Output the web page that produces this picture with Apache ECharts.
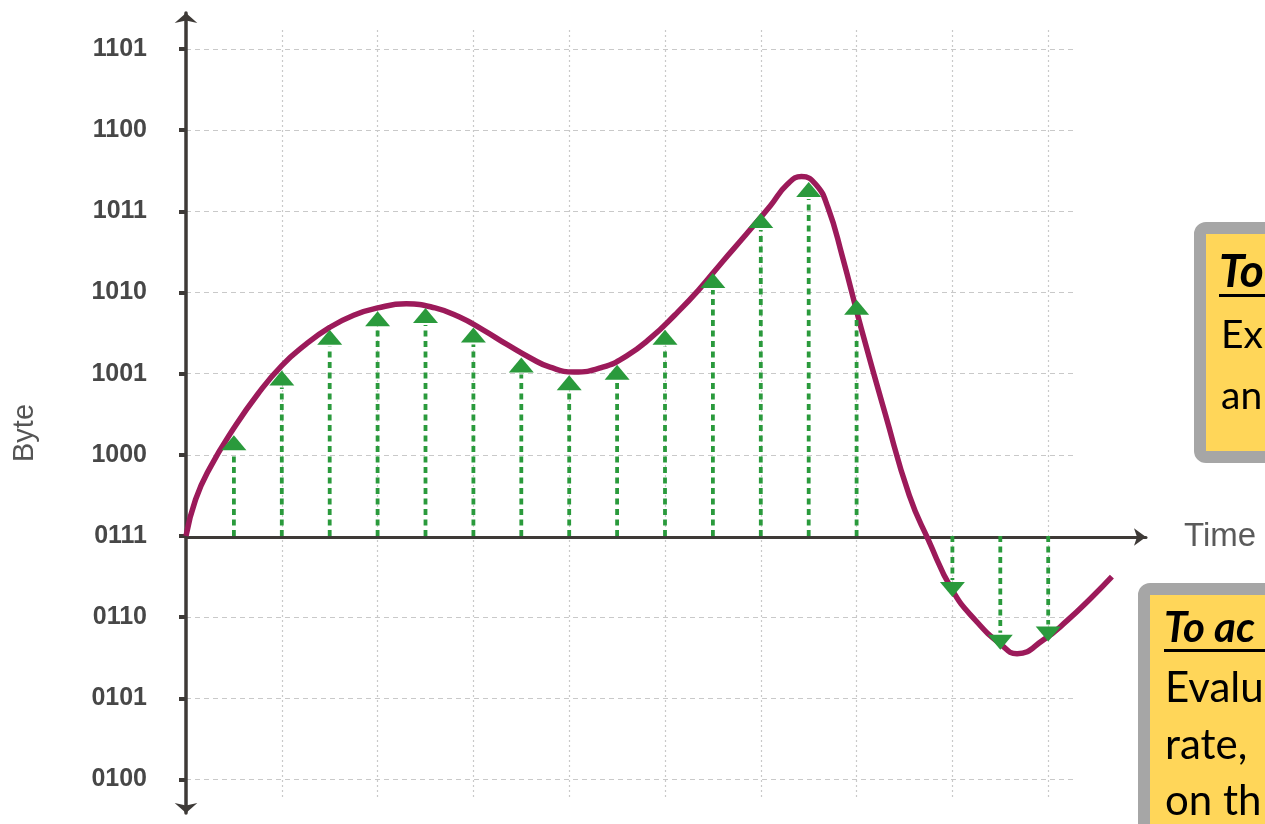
<!DOCTYPE html>
<html>
<head>
<meta charset="utf-8">
<script src="https://cdn.jsdelivr.net/npm/echarts@6/dist/echarts.min.js"></script>
<style>
html,body{margin:0;padding:0;background:#fff;}
#chart{width:1265px;height:824px;}
</style>
</head>
<body>
<div id="chart"></div>
<script>
// ---- data ----
const yTickValues = [4, 5, 6, 7, 8, 9, 10, 11, 12, 13];
const yTickLabels = ['0100', '0101', '0110', '0111', '1000', '1001', '1010', '1011', '1100', '1101'];
const sampleTimes  = [1, 2, 3, 4, 5, 6, 7, 8, 9, 10, 11, 12, 13, 14, 16, 17, 18];
const sampleValues = [8.24, 9.04, 9.54, 9.77, 9.81, 9.57, 9.20, 8.98, 9.11, 9.54, 10.24, 10.98, 11.36, 9.91, 6.25, 5.60, 5.70];
const curveTimes  = [0, 0.2, 0.5, 1, 1.5, 2, 2.5, 3, 3.5, 4, 4.6, 5.2, 5.7, 6.2, 6.7, 7.2, 7.6, 8.1, 8.7, 9.2, 9.7, 10.2, 10.7, 11.2, 11.7, 12.2, 12.55, 12.85, 13.15, 13.4, 13.7, 14.1, 14.6, 15.1, 15.5, 16, 16.5, 17, 17.35, 17.9, 18.4, 18.9, 19.33];
const curveValues = [7.0, 7.45, 7.84, 8.33, 8.75, 9.1, 9.36, 9.57, 9.72, 9.81, 9.86, 9.81, 9.7, 9.54, 9.36, 9.19, 9.08, 9.02, 9.08, 9.22, 9.44, 9.72, 10.03, 10.38, 10.72, 11.07, 11.33, 11.43, 11.33, 11.05, 10.45, 9.55, 8.5, 7.5, 6.95, 6.33, 5.95, 5.67, 5.55, 5.72, 5.96, 6.24, 6.5];
const baseLevel = 7;
const xAxisName = 'Time';
const yAxisName = 'Byte';
const box1Lines = ['To', 'Ex', 'an'];
const box2Lines = ['To ac', 'Evalu', 'rate,', 'on th'];

// ---- chart ----
const chart = echarts.init(document.getElementById('chart'), null, {renderer: 'canvas'});
const green = '#2a9a3c';
const axisColor = '#3e3a37';
const gridColor = '#c9c9c9';
const LEFT = 186;
const UNIT = 47.9;
const PX_PER_BYTE = 81.17;

const option = {
  animation: false,
  backgroundColor: '#ffffff',
  grid: [
    {left: LEFT, top: 13, width: 969, height: 800},             // 0 data + y axis
    {left: LEFT, top: 536, width: 960, height: 1},              // 1 time axis line
    {left: LEFT, top: 49, width: 891, height: 730.5},           // 2 horizontal grid lines
    {left: LEFT, top: 30, width: UNIT * 18, height: 767}        // 3 vertical grid lines
  ],
  xAxis: [
    {gridIndex: 0, type: 'value', min: 0, max: 969 / UNIT, show: false},
    {gridIndex: 1, type: 'value', min: 0, max: 1, position: 'top', z: 1,
     axisLine: {show: true, symbol: ['none', 'arrow'], symbolSize: [13, 12], lineStyle: {color: axisColor, width: 3}},
     axisTick: {show: false}, axisLabel: {show: false}, splitLine: {show: false},
     name: xAxisName, nameLocation: 'end', nameGap: 38,
     nameTextStyle: {fontFamily: 'Liberation Sans', fontSize: 33, color: '#5a5a5a', padding: [0, 0, 16, 0]}},
    {gridIndex: 2, type: 'value', min: 0, max: 1, show: false},
    {gridIndex: 3, type: 'value', min: 0, max: 18, interval: 2, z: 0,
     axisLine: {show: false}, axisTick: {show: false}, axisLabel: {show: false},
     splitLine: {show: true, lineStyle: {color: gridColor, width: 1.2, type: [2, 3]}}}
  ],
  yAxis: [
    {gridIndex: 0, type: 'value', min: 13 - 800 / PX_PER_BYTE + 36 / PX_PER_BYTE, max: 13 + 36 / PX_PER_BYTE, z: 1,
     axisLine: {show: true, symbol: ['arrow', 'arrow'], symbolSize: [17, 10], lineStyle: {color: axisColor, width: 3.5}},
     axisTick: {show: true, length: 7, customValues: yTickValues, lineStyle: {color: axisColor, width: 4}},
     axisLabel: {show: true, customValues: yTickValues, margin: 39,
       formatter: v => yTickLabels[yTickValues.indexOf(Math.round(v))] || '',
       fontFamily: 'Liberation Sans', fontWeight: 'bold', fontSize: 25, color: '#474747'},
     splitLine: {show: false}},
    {gridIndex: 1, type: 'value', min: 0, max: 1, show: false},
    {gridIndex: 2, type: 'value', min: 4, max: 13, interval: 1, z: 0,
     axisLine: {show: false}, axisTick: {show: false}, axisLabel: {show: false},
     splitLine: {show: true, lineStyle: {color: gridColor, width: 1.2, type: [5, 4]}}},
    {gridIndex: 3, type: 'value', min: 0, max: 1, show: false}
  ],
  series: [
    {
      type: 'line', xAxisIndex: 0, yAxisIndex: 0, z: 2,
      data: curveTimes.map((t, i) => [t, curveValues[i]]),
      smooth: 0.5, symbol: 'none',
      lineStyle: {color: '#9c1a5a', width: 5.5}
    },
    {
      type: 'custom', xAxisIndex: 0, yAxisIndex: 0, z: 3,
      data: sampleTimes.map((t, i) => [t, sampleValues[i]]),
      renderItem: function (params, api) {
        const t = api.value(0), v = api.value(1);
        const base = api.coord([t, baseLevel]);
        const tip = api.coord([t, v]);
        const dir = v >= baseLevel ? 1 : -1;
        const h = 15, w = 12.5;
        const by = tip[1] + dir * h;
        return {
          type: 'group',
          children: [
            {type: 'line', shape: {x1: base[0], y1: base[1], x2: tip[0], y2: by + dir * 2},
             style: {stroke: green, lineWidth: 3.8, lineDash: [6, 4.5]}},
            {type: 'polygon', shape: {points: [[tip[0], tip[1]], [tip[0] - w, by], [tip[0] + w, by]]},
             style: {fill: green}}
          ]
        };
      }
    }
  ],
  graphic: [
    {type: 'text', x: 25, y: 433, rotation: Math.PI / 2,
     style: {text: yAxisName, fontFamily: 'Liberation Sans', fontSize: 29, fill: '#555555', align: 'center', verticalAlign: 'middle'}},
    // box 1
    {type: 'rect', shape: {x: 1200, y: 228, width: 140, height: 229, r: 6},
     style: {fill: '#ffd659', stroke: '#a6a6a6', lineWidth: 12}},
    {type: 'text', x: 1219, y: 272,
     style: {text: box1Lines[0], fontFamily: 'Lato', fontWeight: 'bold', fontStyle: 'italic', fontSize: 46, fill: '#000', verticalAlign: 'middle'}},
    {type: 'rect', shape: {x: 1219, y: 294, width: 60, height: 3}, style: {fill: '#000'}},
    {type: 'text', x: 1221, y: 335,
     style: {text: box1Lines[1], fontFamily: 'Lato', fontSize: 39, fill: '#000', verticalAlign: 'middle'}},
    {type: 'text', x: 1221, y: 396,
     style: {text: box1Lines[2], fontFamily: 'Lato', fontSize: 39, fill: '#000', verticalAlign: 'middle'}},
    // box 2
    {type: 'rect', shape: {x: 1144, y: 589, width: 200, height: 300, r: 6},
     style: {fill: '#ffd659', stroke: '#a6a6a6', lineWidth: 12}},
    {type: 'text', x: 1164, y: 628,
     style: {text: box2Lines[0], fontFamily: 'Lato', fontWeight: 'bold', fontStyle: 'italic', fontSize: 42, fill: '#000', verticalAlign: 'middle'}},
    {type: 'rect', shape: {x: 1164, y: 649, width: 120, height: 3}, style: {fill: '#000'}},
    {type: 'text', x: 1165, y: 688,
     style: {text: box2Lines[1], fontFamily: 'Lato', fontSize: 42, fill: '#000', verticalAlign: 'middle'}},
    {type: 'text', x: 1165, y: 745,
     style: {text: box2Lines[2], fontFamily: 'Lato', fontSize: 42, fill: '#000', verticalAlign: 'middle'}},
    {type: 'text', x: 1165, y: 801,
     style: {text: box2Lines[3], fontFamily: 'Lato', fontSize: 42, fill: '#000', verticalAlign: 'middle'}}
  ]
};
chart.setOption(option);
</script>
</body>
</html>
